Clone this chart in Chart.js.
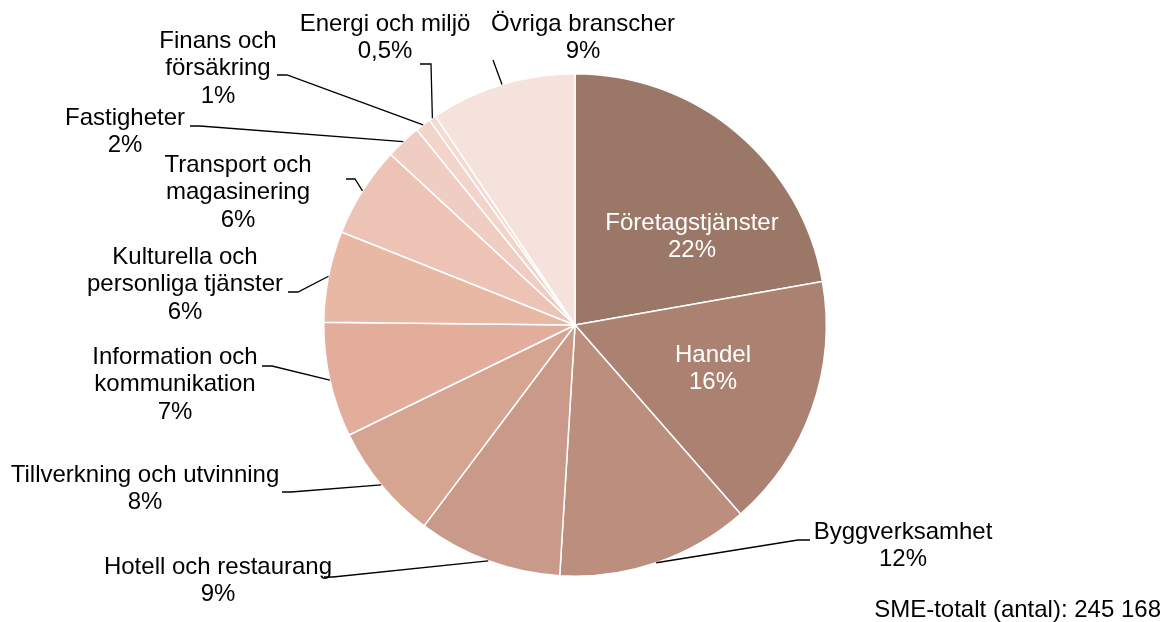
<!DOCTYPE html>
<html>
<head>
<meta charset="utf-8">
<script src="https://cdn.jsdelivr.net/npm/chart.js@4/dist/chart.umd.min.js"></script>
<style>
html,body{margin:0;padding:0;background:#fff;}
#wrap{width:1163px;height:622px;}
</style>
</head>
<body>
<div id="wrap"><canvas id="c" width="1163" height="622"></canvas></div>
<script>
// ---- data ----
const categories = [
  "Företagstjänster", "Handel", "Byggverksamhet", "Hotell och restaurang",
  "Tillverkning och utvinning", "Information och kommunikation",
  "Kulturella och personliga tjänster", "Transport och magasinering",
  "Fastigheter", "Finans och försäkring", "Energi och miljö", "Övriga branscher"
];
const shares = [22.25, 16.33, 12.43, 9.29, 7.54, 7.40, 5.86, 5.85, 2.29, 1.0, 0.45, 9.39];
const shareLabels = ["22%", "16%", "12%", "9%", "8%", "7%", "6%", "6%", "2%", "1%", "0,5%", "9%"];
const labelLines = [
  ["Företagstjänster"], ["Handel"], ["Byggverksamhet"], ["Hotell och restaurang"],
  ["Tillverkning och utvinning"], ["Information och", "kommunikation"],
  ["Kulturella och", "personliga tjänster"], ["Transport och", "magasinering"],
  ["Fastigheter"], ["Finans och", "försäkring"], ["Energi och miljö"], ["Övriga branscher"]
];
const totalNote = "SME-totalt (antal): 245 168";

// ---- styles / layout ----
const colors = ["#9b7767", "#ab8272", "#bb8e7e", "#c99a8a", "#d6a591", "#e2ae9b",
                "#e9b8a5", "#ecc3b5", "#f0cdc2", "#f2d4cb", "#f4dad3", "#f6e2dd"];
const FONT = '24px "Liberation Sans", Arial, sans-serif';
const LINE_H = 27.5;
// label placement: text center x, first-line center y, inside?, leader start (p1) and elbow (p2)
const labelLayout = [
  {x: 692, y: 223, inside: true},
  {x: 713, y: 355, inside: true},
  {x: 903, y: 532, p1: [810, 540], p2: [798, 540]},
  {x: 218, y: 567, p1: [324, 577], p2: [333, 577]},
  {x: 145, y: 475, p1: [282, 492], p2: [291, 492]},
  {x: 175, y: 357, p1: [262, 366], p2: [272, 366]},
  {x: 185, y: 257, p1: [288, 292], p2: [298, 292]},
  {x: 238, y: 165, p1: [346, 179], p2: [355, 179]},
  {x: 125, y: 118, p1: [190, 126], p2: [200, 126]},
  {x: 218, y: 41, p1: [277, 75], p2: [287, 75]},
  {x: 385, y: 24, p1: [420, 64], p2: [431, 64]},
  {x: 583, y: 24, p1: [493, 60], p2: [493, 60]}
];

const labelPlugin = {
  id: 'pieLabels',
  afterDraw(chart) {
    const ctx = chart.ctx;
    const meta = chart.getDatasetMeta(0);
    ctx.save();
    ctx.font = FONT;
    ctx.textAlign = 'center';
    ctx.textBaseline = 'middle';
    meta.data.forEach((arc, i) => {
      const p = arc.getProps(['x', 'y', 'startAngle', 'endAngle', 'outerRadius'], true);
      const L = labelLayout[i];
      const lines = labelLines[i].concat([shareLabels[i]]);
      if (!L.inside) {
        const a = (p.startAngle + p.endAngle) / 2;
        const ex = p.x + p.outerRadius * Math.cos(a);
        const ey = p.y + p.outerRadius * Math.sin(a);
        ctx.strokeStyle = '#000';
        ctx.lineWidth = 1.3;
        ctx.beginPath();
        ctx.moveTo(L.p1[0], L.p1[1]);
        ctx.lineTo(L.p2[0], L.p2[1]);
        ctx.lineTo(ex, ey);
        ctx.stroke();
      }
      ctx.fillStyle = L.inside ? '#ffffff' : '#000000';
      lines.forEach((t, k) => ctx.fillText(t, L.x, L.y + k * LINE_H));
    });
    ctx.textAlign = 'right';
    ctx.fillStyle = '#000';
    ctx.fillText(totalNote, 1161, 610);
    ctx.restore();
  }
};

new Chart(document.getElementById('c'), {
  type: 'pie',
  data: {
    labels: categories,
    datasets: [{
      data: shares,
      backgroundColor: colors,
      borderColor: '#ffffff',
      borderWidth: 1.5
    }]
  },
  options: {
    responsive: false,
    animation: false,
    layout: {padding: {left: 300, right: 313, top: 73, bottom: 45}},
    plugins: {legend: {display: false}, tooltip: {enabled: false}}
  },
  plugins: [labelPlugin]
});
</script>
</body>
</html>
